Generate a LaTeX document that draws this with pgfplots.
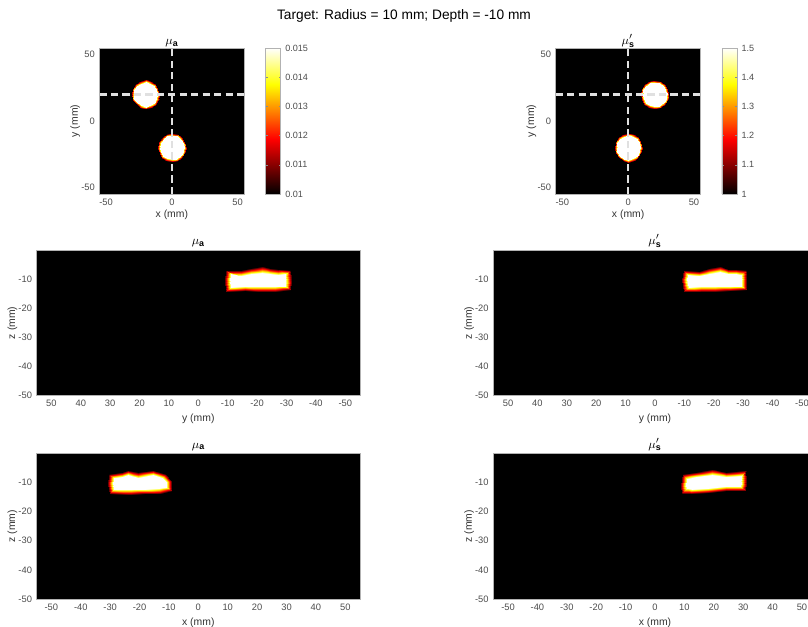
\documentclass[border=0pt]{standalone}
\usepackage{fontspec}
\setmainfont{Liberation Sans}
\usepackage{pgfplots}
\pgfplotsset{compat=1.18}
\pgfplotsset{
  colormap={mhot}{rgb(0cm)=(0,0,0); rgb(3cm)=(1,0,0); rgb(6cm)=(1,1,0); rgb(8cm)=(1,1,1)},
  panel/.style={
    scale only axis,
    anchor=south west,
    axis background/.style={fill=black},
    axis line style={draw=black!30},
    major tick length=0pt,
    tick label style={font=\fontsize{7}{8}\selectfont, text=black!70},
    label style={font=\fontsize{7.8}{9}\selectfont, text=black!80},
    title style={font=\fontsize{9.5}{11}\selectfont, text=black, at={(0.5,1)}, anchor=south, yshift=-9pt},
    ylabel shift=-6pt,
    /pgf/number format/assume math mode=true,
    enlargelimits=false,
    axis on top,
    colormap name=mhot,
  },
  topp/.style={panel, width=108.6pt, height=109.5pt, xmin=-55, xmax=55, ymin=-55, ymax=55,
    xtick={-50,0,50}, ytick={-50,0,50}, xlabel={x (mm)}, ylabel={y (mm)}, xlabel shift=-3.5pt},
  side/.style={panel, width=242.5pt, height=109.3pt, xmin=-55, xmax=55, ymin=-50, ymax=0,
    xtick={-50,-40,-30,-20,-10,0,10,20,30,40,50}, ytick={-50,-40,-30,-20,-10}, ylabel={z (mm)},
    title style={yshift=1.5pt}, xlabel shift=-1.5pt},
  cbar/.style={colorbar, colorbar style={at={(parent axis.north east)}, anchor=north west,
    xshift=7.5pt, scale only axis, width=11.25pt, height=109.5pt, scaled y ticks=false,
    axis line style={draw=black!30}, major tick length=1.5pt, tick style={draw=black!45},
    yticklabel style={font=\fontsize{6.8}{8}\selectfont, text=black!70}}},
  dline/.style={draw=black!12, line width=1.6pt, dash pattern=on 5.4pt off 3.2pt},
  blob/.style={surf, shader=interp, mesh/rows=3, point meta=\thisrow{v}},
}
\begin{document}
\begin{tikzpicture}
\useasboundingbox (0,0) rectangle (606pt,469.5pt);
\node[font=\fontsize{10.3}{12}\selectfont] at (303pt,457.5pt) {Target: Radius = 10 mm; Depth = -10 mm};

% ---------- top left: mu_a, x-y ----------
\begin{axis}[topp, at={(74.6pt,324pt)}, title={$\mu_{\mathbf{a}}$},
  point meta min=0.01, point meta max=0.015, cbar,
  colorbar style={ytick={0.01,0.011,0.012,0.013,0.014,0.015}, yticklabels={0.01,0.011,0.012,0.013,0.014,0.015}}]
\addplot[blob] table {
x y v
-20 20 0.015
-20 20 0.015
-20 20 0.015
-20 20 0.015
-20 20 0.015
-20 20 0.015
-20 20 0.015
-20 20 0.015
-20 20 0.015
-20 20 0.015
-20 20 0.015
-20 20 0.015
-20 20 0.015
-20 20 0.015
-20 20 0.015
-20 20 0.015
-20 20 0.015
-11.00 20.00 0.015
-12.05 23.29 0.015
-13.50 26.50 0.015
-16.63 28.13 0.015
-20.00 29.30 0.015
-23.33 28.04 0.015
-26.36 26.36 0.015
-28.41 23.49 0.015
-28.80 20.00 0.015
-28.50 16.48 0.015
-26.08 13.92 0.015
-23.45 11.68 0.015
-20.00 10.70 0.015
-16.67 11.96 0.015
-13.57 13.57 0.015
-11.78 16.59 0.015
-11.00 20.00 0.015
-9.00 20.00 0.01
-10.21 24.06 0.01
-12.08 27.92 0.01
-15.86 29.98 0.01
-20.00 31.30 0.01
-24.10 29.89 0.01
-27.78 27.78 0.01
-30.26 24.25 0.01
-30.80 20.00 0.01
-30.35 15.71 0.01
-27.49 12.51 0.01
-24.21 9.84 0.01
-20.00 8.70 0.01
-15.90 10.11 0.01
-12.15 12.15 0.01
-9.93 15.83 0.01
-9.00 20.00 0.01
};
\addplot[blob] table {
x y v
0 -20 0.015
0 -20 0.015
0 -20 0.015
0 -20 0.015
0 -20 0.015
0 -20 0.015
0 -20 0.015
0 -20 0.015
0 -20 0.015
0 -20 0.015
0 -20 0.015
0 -20 0.015
0 -20 0.015
0 -20 0.015
0 -20 0.015
0 -20 0.015
0 -20 0.015
9.20 -20.00 0.015
8.13 -16.63 0.015
6.36 -13.64 0.015
3.56 -11.41 0.015
0.00 -11.30 0.015
-3.49 -11.59 0.015
-6.29 -13.71 0.015
-8.50 -16.48 0.015
-9.00 -20.00 0.015
-8.04 -23.33 0.015
-6.58 -26.58 0.015
-3.41 -28.22 0.015
0.00 -29.00 0.015
3.52 -28.50 0.015
6.22 -26.22 0.015
8.41 -23.49 0.015
9.20 -20.00 0.015
11.20 -20.00 0.01
9.98 -15.86 0.01
7.78 -12.22 0.01
4.33 -9.56 0.01
0.00 -9.30 0.01
-4.25 -9.74 0.01
-7.71 -12.29 0.01
-10.35 -15.71 0.01
-11.00 -20.00 0.01
-9.89 -24.10 0.01
-7.99 -27.99 0.01
-4.17 -30.07 0.01
0.00 -31.00 0.01
4.29 -30.35 0.01
7.64 -27.64 0.01
10.26 -24.25 0.01
11.20 -20.00 0.01
};
\addplot[dline] coordinates {(0,-55) (0,55)};
\addplot[dline] coordinates {(-55,20) (55,20)};
\end{axis}

% ---------- top right: mu_s', x-y ----------
\begin{axis}[topp, at={(416.8pt,324pt)}, title={$\mu_{\mathbf{s}}'$},
  point meta min=1, point meta max=1.5, cbar,
  colorbar style={ytick={1,1.1,1.2,1.3,1.4,1.5}, yticklabels={1,1.1,1.2,1.3,1.4,1.5}}]
\addplot[blob] table {
x y v
20 20 1.5
20 20 1.5
20 20 1.5
20 20 1.5
20 20 1.5
20 20 1.5
20 20 1.5
20 20 1.5
20 20 1.5
20 20 1.5
20 20 1.5
20 20 1.5
20 20 1.5
20 20 1.5
20 20 1.5
20 20 1.5
20 20 1.5
29.20 20.00 1.5
28.13 23.37 1.5
26.36 26.36 1.5
23.56 28.59 1.5
20.00 28.70 1.5
16.51 28.41 1.5
13.71 26.29 1.5
11.50 23.52 1.5
11.00 20.00 1.5
11.96 16.67 1.5
13.42 13.42 1.5
16.59 11.78 1.5
20.00 11.00 1.5
23.52 11.50 1.5
26.22 13.78 1.5
28.41 16.51 1.5
29.20 20.00 1.5
31.20 20.00 1
29.98 24.14 1
27.78 27.78 1
24.33 30.44 1
20.00 30.70 1
15.75 30.26 1
12.29 27.71 1
9.65 24.29 1
9.00 20.00 1
10.11 15.90 1
12.01 12.01 1
15.83 9.93 1
20.00 9.00 1
24.29 9.65 1
27.64 12.36 1
30.26 15.75 1
31.20 20.00 1
};
\addplot[blob] table {
x y v
0 -20 1.5
0 -20 1.5
0 -20 1.5
0 -20 1.5
0 -20 1.5
0 -20 1.5
0 -20 1.5
0 -20 1.5
0 -20 1.5
0 -20 1.5
0 -20 1.5
0 -20 1.5
0 -20 1.5
0 -20 1.5
0 -20 1.5
0 -20 1.5
0 -20 1.5
9.00 -20.00 1.5
7.95 -16.71 1.5
6.50 -13.50 1.5
3.37 -11.87 1.5
0.00 -10.70 1.5
-3.33 -11.96 1.5
-6.36 -13.64 1.5
-8.41 -16.51 1.5
-8.80 -20.00 1.5
-8.50 -23.52 1.5
-6.08 -26.08 1.5
-3.45 -28.32 1.5
0.00 -29.30 1.5
3.33 -28.04 1.5
6.43 -26.43 1.5
8.22 -23.41 1.5
9.00 -20.00 1.5
11.00 -20.00 1
9.79 -15.94 1
7.92 -12.08 1
4.14 -10.02 1
0.00 -8.70 1
-4.10 -10.11 1
-7.78 -12.22 1
-10.26 -15.75 1
-10.80 -20.00 1
-10.35 -24.29 1
-7.49 -27.49 1
-4.21 -30.16 1
0.00 -31.30 1
4.10 -29.89 1
7.85 -27.85 1
10.07 -24.17 1
11.00 -20.00 1
};
\addplot[dline] coordinates {(0,-55) (0,55)};
\addplot[dline] coordinates {(-55,20) (55,20)};
\end{axis}

% ---------- middle left: mu_a, y-z ----------
\begin{axis}[side, at={(27.5pt,172.7pt)}, x dir=reverse, xlabel={y (mm)}, title={$\mu_{\mathbf{a}}$},
  point meta min=0.01, point meta max=0.015]
\addplot[blob] table {
x y v
-20.3 -10.4 0.015
-20.3 -10.4 0.015
-20.3 -10.4 0.015
-20.3 -10.4 0.015
-20.3 -10.4 0.015
-20.3 -10.4 0.015
-20.3 -10.4 0.015
-20.3 -10.4 0.015
-20.3 -10.4 0.015
-20.3 -10.4 0.015
-20.3 -10.4 0.015
-20.3 -10.4 0.015
-20.3 -10.4 0.015
-20.3 -10.4 0.015
-20.3 -10.4 0.015
-10.8 -10.3 0.015
-11.0 -8.4 0.015
-14.5 -8.8 0.015
-18.0 -8.4 0.015
-21.5 -7.8 0.015
-24.5 -8.3 0.015
-27.0 -8.5 0.015
-29.6 -8.4 0.015
-29.6 -10.3 0.015
-29.6 -12.3 0.015
-26.0 -12.5 0.015
-21.0 -12.4 0.015
-16.0 -12.3 0.015
-11.2 -12.7 0.015
-10.8 -10.3 0.015
-8.6 -10.3 0.01
-9.0 -6.8 0.01
-14.5 -6.7 0.01
-18.0 -6.3 0.01
-21.5 -5.6 0.01
-24.5 -6.2 0.01
-27.0 -6.5 0.01
-31.6 -6.8 0.01
-31.8 -10.3 0.01
-31.6 -13.8 0.01
-26.0 -14.4 0.01
-21.0 -14.3 0.01
-16.0 -14.2 0.01
-9.2 -14.4 0.01
-8.6 -10.3 0.01
};
\end{axis}

% ---------- middle right: mu_s', y-z ----------
\begin{axis}[side, at={(370pt,172.7pt)}, x dir=reverse, xlabel={y (mm)}, title={$\mu_{\mathbf{s}}'$},
  point meta min=1, point meta max=1.5]
\addplot[blob] table {
x y v
-20.3 -10.4 1.5
-20.3 -10.4 1.5
-20.3 -10.4 1.5
-20.3 -10.4 1.5
-20.3 -10.4 1.5
-20.3 -10.4 1.5
-20.3 -10.4 1.5
-20.3 -10.4 1.5
-20.3 -10.4 1.5
-20.3 -10.4 1.5
-20.3 -10.4 1.5
-20.3 -10.4 1.5
-20.3 -10.4 1.5
-20.3 -10.4 1.5
-20.3 -10.4 1.5
-11.0 -10.4 1.5
-11.2 -8.5 1.5
-15.0 -9.0 1.5
-18.5 -8.2 1.5
-22.0 -7.7 1.5
-25.0 -8.4 1.5
-27.5 -8.3 1.5
-29.4 -8.6 1.5
-29.4 -10.4 1.5
-29.4 -12.2 1.5
-25.5 -12.3 1.5
-20.5 -12.4 1.5
-15.5 -12.5 1.5
-11.4 -12.8 1.5
-11.0 -10.4 1.5
-9.0 -10.4 1
-9.4 -6.9 1
-15.0 -7.1 1
-18.5 -6.2 1
-22.0 -5.6 1
-25.0 -6.4 1
-27.5 -6.4 1
-31.2 -6.9 1
-31.4 -10.4 1
-31.2 -13.6 1
-25.5 -14.2 1
-20.5 -14.3 1
-15.5 -14.4 1
-9.6 -14.5 1
-9.0 -10.4 1
};
\end{axis}

% ---------- bottom left: mu_a, x-z ----------
\begin{axis}[side, at={(27.5pt,20.25pt)}, xlabel={x (mm)}, title={$\mu_{\mathbf{a}}$},
  point meta min=0.01, point meta max=0.015]
\addplot[blob] table {
x y v
-20.0 -10.2 0.015
-20.0 -10.2 0.015
-20.0 -10.2 0.015
-20.0 -10.2 0.015
-20.0 -10.2 0.015
-20.0 -10.2 0.015
-20.0 -10.2 0.015
-20.0 -10.2 0.015
-20.0 -10.2 0.015
-20.0 -10.2 0.015
-20.0 -10.2 0.015
-20.0 -10.2 0.015
-20.0 -10.2 0.015
-20.0 -10.2 0.015
-29.2 -10.5 0.015
-28.8 -8.6 0.015
-26.0 -8.3 0.015
-23.8 -7.6 0.015
-20.5 -8.4 0.015
-15.5 -7.6 0.015
-12.5 -8.6 0.015
-10.9 -10.0 0.015
-10.9 -11.6 0.015
-13.5 -12.0 0.015
-18.0 -12.2 0.015
-23.0 -12.3 0.015
-28.8 -12.4 0.015
-29.2 -10.5 0.015
-31.2 -10.5 0.01
-30.6 -7.0 0.01
-26.0 -6.4 0.01
-23.8 -5.6 0.01
-20.5 -6.5 0.01
-15.5 -5.6 0.01
-11.0 -7.0 0.01
-8.9 -9.4 0.01
-8.9 -12.9 0.01
-13.0 -13.9 0.01
-18.0 -14.1 0.01
-23.0 -14.2 0.01
-30.4 -14.0 0.01
-31.2 -10.5 0.01
};
\end{axis}

% ---------- bottom right: mu_s', x-z ----------
\begin{axis}[side, at={(370pt,20.25pt)}, xlabel={x (mm)}, title={$\mu_{\mathbf{s}}'$},
  point meta min=1, point meta max=1.5]
\addplot[blob] table {
x y v
20.0 -10.0 1.5
20.0 -10.0 1.5
20.0 -10.0 1.5
20.0 -10.0 1.5
20.0 -10.0 1.5
20.0 -10.0 1.5
20.0 -10.0 1.5
20.0 -10.0 1.5
20.0 -10.0 1.5
20.0 -10.0 1.5
20.0 -10.0 1.5
20.0 -10.0 1.5
20.0 -10.0 1.5
10.6 -10.8 1.5
11.0 -8.8 1.5
14.0 -8.2 1.5
19.5 -7.6 1.5
24.0 -8.3 1.5
29.2 -7.9 1.5
29.3 -10.0 1.5
29.0 -11.2 1.5
24.0 -11.3 1.5
18.0 -11.8 1.5
12.5 -12.2 1.5
10.8 -12.0 1.5
10.6 -10.8 1.5
8.6 -10.8 1
9.3 -7.2 1
14.0 -6.3 1
19.5 -5.5 1
24.0 -6.4 1
31.0 -5.9 1
31.3 -10.0 1
30.8 -12.8 1
24.0 -13.1 1
18.0 -13.6 1
11.8 -14.0 1
9.0 -13.9 1
8.6 -10.8 1
};
\end{axis}
\end{tikzpicture}
\end{document}
